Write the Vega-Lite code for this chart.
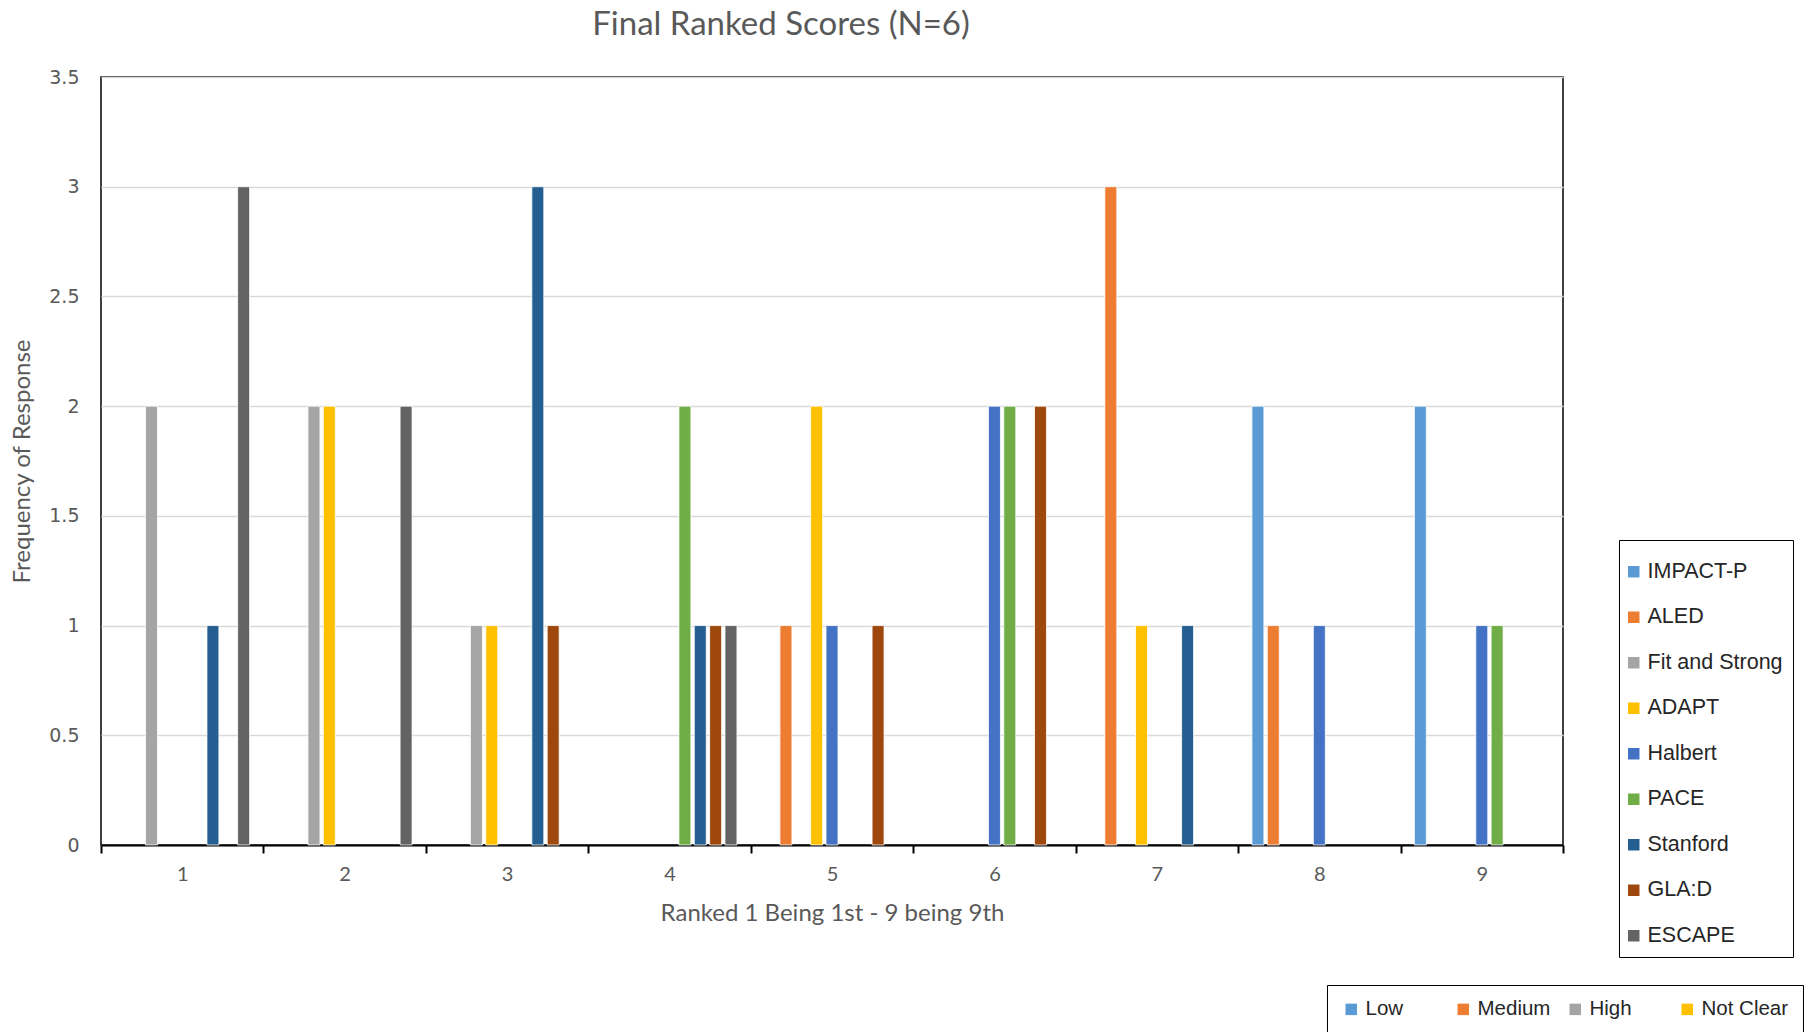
{
  "$schema": "https://vega.github.io/schema/vega-lite/v6.json",
  "width": 1462,
  "height": 768,
  "autosize": {"type": "none"},
  "padding": {"left": 101, "top": 77, "right": 247, "bottom": 187},
  "background": "white",
  "config": {
    "view": {"stroke": "#000000", "strokeWidth": 1.5},
    "legend": {"symbolType": "square", "symbolStrokeWidth": 0}
  },
  "title": {
    "text": "Final Ranked Scores (N=6)",
    "font": "Lato",
    "fontSize": 33,
    "fontWeight": "normal",
    "color": "#595959",
    "anchor": "middle",
    "dx": -51,
    "offset": 26
  },
  "layer": [
    {
      "data": {
        "values": [
          {"rank": "1", "program": "Fit and Strong", "count": 2},
          {"rank": "1", "program": "Stanford", "count": 1},
          {"rank": "1", "program": "ESCAPE", "count": 3},
          {"rank": "2", "program": "Fit and Strong", "count": 2},
          {"rank": "2", "program": "ADAPT", "count": 2},
          {"rank": "2", "program": "ESCAPE", "count": 2},
          {"rank": "3", "program": "Fit and Strong", "count": 1},
          {"rank": "3", "program": "ADAPT", "count": 1},
          {"rank": "3", "program": "Stanford", "count": 3},
          {"rank": "3", "program": "GLA:D", "count": 1},
          {"rank": "4", "program": "PACE", "count": 2},
          {"rank": "4", "program": "Stanford", "count": 1},
          {"rank": "4", "program": "GLA:D", "count": 1},
          {"rank": "4", "program": "ESCAPE", "count": 1},
          {"rank": "5", "program": "ALED", "count": 1},
          {"rank": "5", "program": "ADAPT", "count": 2},
          {"rank": "5", "program": "Halbert", "count": 1},
          {"rank": "5", "program": "GLA:D", "count": 1},
          {"rank": "6", "program": "Halbert", "count": 2},
          {"rank": "6", "program": "PACE", "count": 2},
          {"rank": "6", "program": "GLA:D", "count": 2},
          {"rank": "7", "program": "ALED", "count": 3},
          {"rank": "7", "program": "ADAPT", "count": 1},
          {"rank": "7", "program": "Stanford", "count": 1},
          {"rank": "8", "program": "IMPACT-P", "count": 2},
          {"rank": "8", "program": "ALED", "count": 1},
          {"rank": "8", "program": "Halbert", "count": 1},
          {"rank": "9", "program": "IMPACT-P", "count": 2},
          {"rank": "9", "program": "Halbert", "count": 1},
          {"rank": "9", "program": "PACE", "count": 1}
        ]
      },
      "mark": {"type": "bar", "stroke": "white", "strokeWidth": 0.8},
      "encoding": {
        "x": {
          "field": "rank",
          "type": "ordinal",
          "scale": {"domain": ["1","2","3","4","5","6","7","8","9"], "paddingInner": 0, "paddingOuter": 0},
          "axis": {
            "title": "Ranked 1 Being 1st - 9 being 9th",
            "titleFont": "Lato",
            "titleFontSize": 24,
            "titleFontWeight": "normal",
            "titleColor": "#595959",
            "titlePadding": 17,
            "labelAngle": 0,
            "labelFont": "Lato",
            "labelFontSize": 20,
            "labelColor": "#595959",
            "labelPadding": 11,
            "domainColor": "#000000",
            "domainWidth": 2,
            "tickColor": "#000000",
            "tickWidth": 2,
            "tickSize": 8,
            "tickBand": "extent",
            "grid": false
          }
        },
        "xOffset": {
          "field": "program",
          "type": "nominal",
          "scale": {
            "domain": ["IMPACT-P","ALED","Fit and Strong","ADAPT","Halbert","PACE","Stanford","GLA:D","ESCAPE"],
            "paddingInner": 0.22,
            "paddingOuter": 0.9
          }
        },
        "y": {
          "field": "count",
          "type": "quantitative",
          "scale": {"domain": [0, 3.5], "nice": false},
          "axis": {
            "title": "Frequency of Response",
            "titleFont": "Lato",
            "titleFontSize": 24,
            "titleFontWeight": "normal",
            "titleColor": "#595959",
            "titlePadding": 14,
            "values": [0, 0.5, 1, 1.5, 2, 2.5, 3, 3.5],
            "format": ".1~f",
            "labelFont": "DejaVu Sans",
            "labelFontSize": 19,
            "labelColor": "#595959",
            "labelPadding": 22,
            "ticks": false,
            "domain": false,
            "grid": true,
            "gridColor": "#d9d9d9",
            "gridWidth": 1.5
          }
        },
        "color": {
          "field": "program",
          "type": "nominal",
          "scale": {
            "domain": ["IMPACT-P","ALED","Fit and Strong","ADAPT","Halbert","PACE","Stanford","GLA:D","ESCAPE"],
            "range": ["#5B9BD5","#ED7D31","#A5A5A5","#FFC000","#4472C4","#70AD47","#255E91","#9E480E","#636363"]
          },
          "legend": {
            "title": " ",
            "titleFontSize": 11,
            "titlePadding": 0,
            "orient": "none",
            "legendX": 1518,
            "legendY": 463,
            "direction": "vertical",
            "labelFont": "Liberation Sans",
            "labelFontSize": 21.5,
            "labelColor": "#262626",
            "symbolSize": 132,
            "symbolOffset": -6,
            "labelOffset": 3,
            "rowPadding": 22.5,
            "padding": 10,
            "strokeColor": "#000000",
            "fillColor": "white"
          }
        }
      }
    },
    {
      "data": {
        "values": [
          {"level": "Low"},
          {"level": "Medium"},
          {"level": "High"},
          {"level": "Not Clear"}
        ]
      },
      "mark": {"type": "square", "opacity": 0},
      "encoding": {
        "fill": {
          "field": "level",
          "type": "nominal",
          "scale": {
            "domain": ["Low","Medium","High","Not Clear"],
            "range": ["#5B9BD5","#ED7D31","#A5A5A5","#FFC000"]
          },
          "legend": {
            "title": null,
            "orient": "none",
            "legendX": 1226,
            "legendY": 908,
            "direction": "horizontal",
            "columns": 4,
            "gridAlign": "all",
            "labelFont": "Liberation Sans",
            "labelFontSize": 20.5,
            "labelColor": "#262626",
            "symbolSize": 132,
            "symbolOpacity": 1,
            "labelOffset": 4,
            "columnPadding": 0,
            "padding": 14,
            "strokeColor": "#000000",
            "fillColor": "white"
          }
        }
      }
    }
  ]
}
